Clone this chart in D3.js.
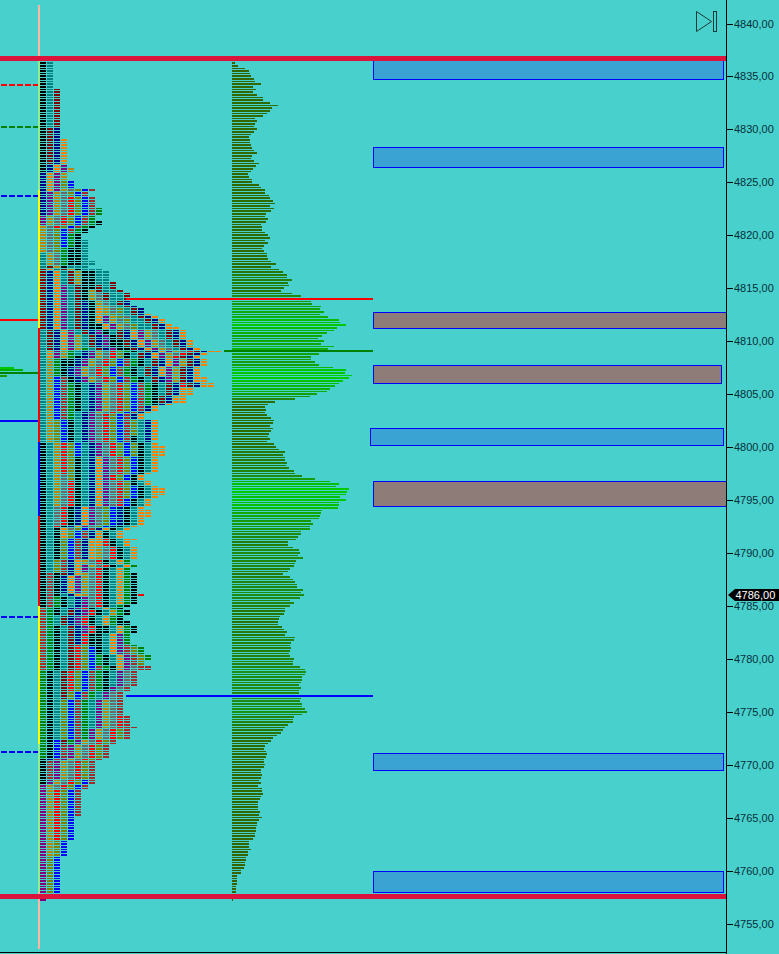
<!DOCTYPE html>
<html><head><meta charset="utf-8">
<style>html,body{margin:0;padding:0;background:#48d1cc;overflow:hidden}svg{display:block}</style>
<script src="https://cdnjs.cloudflare.com/ajax/libs/d3/7.8.5/d3.min.js"></script>
</head><body><svg id="c" width="779" height="954"></svg>
<script>
// ---------- data ----------
const topRowPrice = 4836.5, tickSize = 0.25;
const volumes = [1,3,6,13,17,18,19,22,23,29,21,24,21,25,31,31,38,46,40,38,35,31,23,25,23,22,25,22,19,17,18,18,19,20,22,25,20,19,22,27,24,21,19,16,17,20,
20,27,29,33,33,37,38,41,43,38,42,39,34,33,36,34,29,30,30,33,36,38,33,36,32,30,32,35,35,36,39,44,39,47,51,55,55,60,56,57,52,49,60,
69,75,79,80,89,88,92,88,96,107,108,114,105,102,95,90,86,92,89,102,96,100,87,79,79,83,87,101,114,113,120,117,111,107,103,98,95,85,78,63,43,36,33,34,33,35,39,
42,41,38,41,39,37,36,38,35,42,44,47,53,51,53,53,55,54,57,62,63,70,83,98,107,104,117,115,114,108,114,107,107,106,90,89,88,87,79,81,78,78,69,69,66,64,56,56,61,67,68,66,71,
64,63,62,58,56,51,58,61,63,65,65,71,69,72,68,58,62,58,53,53,52,48,47,46,46,50,52,55,53,63,62,59,58,59,58,57,58,62,61,61,68,73,74,73,70,70,69,67,69,67,67,68,
69,68,70,70,73,75,70,
62,61,61,56,53,51,49,45,41,39,36,33,32,34,35,34,32,32,33,32,29,29,30,29,27,29,26,30,30,31,29,28,26,26,26,26,28,27,30,27,25,25,24,24,23,23,21,17,17,17,19,
16,16,14,14,13,13,12,9,9,5,5,5,5,4,4,4,4,2,1];

// TPO letters by period colour; each band is [first row, periods in the row]
const periodColors = {k:"#000000",t:"#008080",d:"#800000",n:"#000080",o:"#ff8000",p:"#800080",g:"#b8860b",y:"#696969",r:"#ff0000",l:"#808000",b:"#0000ff",w:"#a52a2a",e:"#008000"};
const tpoBands = [[0,"k"],[1,"kt"],[11,"ktd"],[26,"kdn"],[30,"kdno"],[40,"knop"],[41,"knopg"],[43,"nopg"],[46,"noplb"],[49,"nopgylbw"],[50,"npgylbw"],[52,"npgyrlbw"],[56,"npgyrlbwe"],[59,"pgyrlbwe"],[61,"pgyrlbwek"],[63,"gyrlbwek"],[64,"gylbwek"],[66,"gylbek"],[68,"gylbekt"],[71,"gylekkt"],[73,"tgyekkt"],[76,"tgyekktt"],[78,"tdgkttt"],[79,"dotdgkttt"],[80,"dnotdgkktt"],[84,"dnotdgkkttd"],[85,"dnoptdkkdtd"],[87,"dnoptdkgdttd"],[88,"dnoptdkgydttd"],[91,"dnoptdnkgytdn"],[93,"dnoptdnkogytdn"],[94,"dnoptdnkogyltdn"],[96,"dnoptdnkoglytdno"],[97,"dnoptdnkopglytdno"],[98,"dnoptdnkopgylttdno"],[100,"dnoptdnkkopgylttdno"],[101,"dnoptdnkkopgylttdnoo"],[102,"tdnoptdnpktdnopgytdno"],[104,"tdnopgtdnpkdnopgytdno"],[106,"tdnopgtdnpkkdnopgytdno"],[109,"tdnopgetdnpkkdnopgytdno"],[110,"topgetnpgyrlektdnopgyrdno" + "o"],[111,"topgetnpgyrlktdnopgyrdno"],[112,"topgeknpgyrlktdnopgrdno"],[113,"tgekknpgyrlbwektdnopgdno"],[116,"tgeknpgyrlbwektdnopgdno"],[120,"tgbwknpgyrlbwektdnpgdnoo"],[122,"tgbwektnpgyrlbwektdnrdnoo"],[124,"tgbwektnpgyrlbwektdnoo"],[127,"tgbwektnpgyrlbwekdnoo"],[130,"tgbwektnpgyrlbwekno"],[131,"tgbwektnpgyrlbwno"],[133,"tgbwetnpgyrlbwno"],[134,"tgbwetnpyrlbwno"],[136,"tglbktnpyrlbwltno"],[142,"tglbktnpyrlbwktno"],[144,"tglbktnpyrlbwktn"],[145,"ktgrlbtnpyrlblkto"],[146,"ktgrlbtnpyrlblktoo"],[150,"ktgrlktnopyrlbkto"],[156,"ktgrlktnopyrlbko"],[157,"ktgylktnoprlbko"],[159,"ktgyrktnopyrlkto"],[161,"ktgyrktnopyrlbkto"],[162,"ktgyrktnopyrlbktoo"],[165,"ktgyrktnopyrlbkto"],[166,"ktgyrktnopyrbkto"],[169,"ktyrknopylbnkto"],[170,"ktyrknopylbnktoo"],[173,"ktyrknopylbnkto"],[176,"ktrknopylbnkto"],[177,"ktkoylbwnokto"],[178,"ktkolbwnokto"],[181,"ktklbwnoorktoo"],[182,"ktklbwnoorkto"],[184,"ktklbwnogyrkto"],[189,"ktlwnogyrktoe"],[191,"ktlwnopgyrktoe"],[192,"ktlwnopyrktoe"],[194,"kwkdnogyrktoek"],[195,"kwknopgyrktoek"],[202,"kwktnogyrktoekr"],[203,"kwektnpyrktoek"],[206,"kwektnpyrktek"],[207,"wektnprktoek"],[208,"wektdnprktgek"],[210,"wetdnprktoek"],[212,"wetdnprktoekk"],[214,"wektdnprkktoek"],[217,"wektdnrkktope"],[221,"wektdrlkktopwe"],[222,"wektdrlbktopwle"],[225,"wektdrlbektopwle"],[227,"wektdrlbektopwl"],[229,"wektdrlbwekopyww"],[231,"ektdrlbwektpyw"],[237,"ektdrlbwekpyw"],[239,"ektdlbwetpyw"],[242,"ektlbwetpgyw"],[248,"ektlbwetpgyrw"],[252,"ektlbwetpgyrww"],[253,"ektlbwepgyrlw"],[257,"ekbdepgyrlw"],[259,"ekbwpgyrlw"],[264,"knwpgyrlw"],[265,"kwpgyrlw"],[272,"kpgyrlbw"],[274,"pgyrlbw"],[276,"pgrlbw"],[286,"pgrlb"],[295,"pglb"],[301,"plb"],[315,"p"]];

const axisTicks = d3.range(4755, 4841, 5);
const sessionPrices = [4836.75, 4757.66];
const lastPrice = 4786;
const lastPriceLabel = "4786,00";

// Strip beside the profile: [high, low, colour]
const stripHigh = [4841.7, 4836.5, 4824.28, 4811.25, 4800.5, 4793.5, 4785, 4772, 4758];
const stripLow  = [4836.5, 4824.28, 4811.25, 4800.5, 4793.5, 4785, 4772, 4758, 4752.6];
const stripFill = ["#ffb8a0","#90ee90","#ffff00","#ff0000","#0000ff","#ff0000","#ffff00","#90ee90","#ffb8a0"];

const levelPrice = [4814.03, 4809.03, 4776.54];
const levelFill  = ["#ff0000","#008000","#0000ff"];
const levelStart = [126, 224, 126];
const prevPrice = [4812.0, 4802.46];
const prevFill  = ["#ff0000","#0000ff"];
const dashPrice = [4834.22, 4830.23, 4823.74, 4783.96];
const dashFill  = ["#ff0000","#008000","#0000ff","#0000ff"];
const shortDashPrice = [4771.2];

const prevVolPrice = [4807.5, 4807.25, 4807.0, 4806.75];
const prevVolValue = [14, 23, 38, 7];
const prevVolFill  = ["#00c800","#00b000","#008000","#1a9a00"];

const zoneHigh = [4836.65,4828.34,4812.76,4807.75,4801.8,4796.8,4771.1,4760];
const zoneLow  = [4834.76,4826.45,4811.25,4806.05,4800.2,4794.44,4769.5,4758];
const zoneLeft = [373,373,373,373,370,373,373,373];
const zoneRight= [723,723,726,721,723,726,723,723];
const zoneKind = ["s","s","r","r","s","r","s","s"];

// ---------- scales ----------
const W = 779, H = 954, axisX = 726.5;
const y = d3.scaleLinear().domain([4840, 4755]).range([23.5, 923.7]);
const volX = d3.scaleLinear().domain([0, 120]).range([0, 120]);
const volColor = d3.scaleLinear().domain([0, 40, 70, 120]).range(["#3a6000","#2e6b00","#1f8a10","#00d000"]);
const zoneFill = d3.scaleOrdinal().domain(["s","r"]).range(["#3ba3d4","#8e7c78"]);

const svg = d3.select("#c").attr("shape-rendering","crispEdges");
svg.append("rect").attr("width",W).attr("height",H).attr("fill","#48d1cc");

const rowPrice = r => topRowPrice - tickSize * r;
const rowTop = r => Math.floor(y(rowPrice(r)) - 0.5);
const rowH = r => Math.max(1, rowTop(r + 1) - rowTop(r) - 1);
const rowIdx = d3.range(volumes.length);

// strip
svg.append("g").selectAll("rect").data(stripFill).join("rect")
  .attr("x",38).attr("width",2)
  .attr("y",(d,i)=>Math.round(y(stripHigh[i])))
  .attr("height",(d,i)=>Math.round(y(stripLow[i]))-Math.round(y(stripHigh[i])))
  .attr("fill",d=>d);

// TPO cells
const bandStart = tpoBands.map(b=>b[0]);
const cells = [];
rowIdx.forEach(r=>{
  const b = tpoBands[d3.bisectRight(bandStart,r)-1];
  b[1].split("").forEach((ch,c)=>cells.push({r,c,ch}));
});
const tpoX = d3.scaleLinear().domain([0,1]).range([40,47]);
svg.append("g").selectAll("rect").data(cells).join("rect")
  .attr("x",d=>tpoX(d.c)).attr("width",6)
  .attr("y",d=>rowTop(d.r)).attr("height",d=>rowH(d.r))
  .attr("fill",d=>periodColors[d.ch]);

// volume profile
svg.append("g").attr("transform","translate(232,0)").selectAll("rect").data(rowIdx).join("rect")
  .attr("x",0).attr("width",r=>volX(volumes[r]))
  .attr("y",r=>rowTop(r)).attr("height",r=>rowH(r))
  .attr("fill",r=>volColor(volumes[r]));

// previous-profile stub
svg.append("g").selectAll("rect").data(prevVolPrice).join("rect")
  .attr("x",0).attr("width",(d,i)=>prevVolValue[i])
  .attr("y",d=>Math.round(y(d))-1).attr("height",2)
  .attr("fill",(d,i)=>prevVolFill[i]);

// zones
svg.append("g").selectAll("rect").data(zoneHigh).join("rect")
  .attr("x",(d,i)=>zoneLeft[i]+.5).attr("width",(d,i)=>zoneRight[i]-zoneLeft[i])
  .attr("y",d=>Math.round(y(d))+.5).attr("height",(d,i)=>Math.round(y(zoneLow[i]))-Math.round(y(d)))
  .attr("fill",(d,i)=>zoneFill(zoneKind[i])).attr("stroke","#0000ff").attr("stroke-width",1);

// levels
svg.append("g").selectAll("rect").data(levelPrice).join("rect")
  .attr("x",(d,i)=>levelStart[i]).attr("width",(d,i)=>373-levelStart[i])
  .attr("y",d=>Math.round(y(d))-1).attr("height",2)
  .attr("fill",(d,i)=>levelFill[i]);
svg.append("g").selectAll("rect").data(prevPrice).join("rect")
  .attr("x",0).attr("width",38)
  .attr("y",d=>Math.round(y(d))-1).attr("height",2)
  .attr("fill",(d,i)=>prevFill[i]);
svg.append("g").selectAll("line").data(dashPrice).join("line")
  .attr("x1",1).attr("x2",38).attr("y1",d=>Math.round(y(d))).attr("y2",d=>Math.round(y(d)))
  .attr("stroke",(d,i)=>dashFill[i]).attr("stroke-width",2).attr("stroke-dasharray","6 2");
svg.append("g").selectAll("line").data(shortDashPrice).join("line")
  .attr("x1",1).attr("x2",38).attr("y1",d=>Math.round(y(d))).attr("y2",d=>Math.round(y(d)))
  .attr("stroke","#0000ff").attr("stroke-width",2).attr("stroke-dasharray","6 2");

// session bounds
svg.append("g").selectAll("rect").data(sessionPrices).join("rect")
  .attr("x",0).attr("width",727)
  .attr("y",d=>Math.round(y(d))-2.5+.5).attr("height",5)
  .attr("fill","#dc143c");

// axis
const axis = d3.axisRight(y).tickValues(axisTicks).tickSize(6).tickPadding(1.5)
  .tickFormat(d=>d3.format(".2f")(d).replace(".",","));
const ax = svg.append("g").attr("transform",`translate(${axisX},0)`).call(axis);
ax.select(".domain").remove();
ax.selectAll("text").attr("font-family","'Liberation Sans',Arial,sans-serif").attr("font-size",11).attr("fill","#0a2f3a");
ax.selectAll("line").attr("stroke","#000");
svg.append("rect").attr("x",726).attr("y",0).attr("width",1).attr("height",H).attr("fill","#000");
svg.append("rect").attr("x",0).attr("y",952).attr("width",727).attr("height",1).attr("fill","#000");

// last price tag
const tagY = Math.round(y(lastPrice)) - 6;
svg.append("path").attr("shape-rendering","auto")
  .attr("d",`M728,${tagY+6}L735,${tagY}H779V${tagY+12}H735Z`).attr("fill","#000");
svg.append("text").attr("x",735.5).attr("y",tagY+10).text(lastPriceLabel)
  .attr("font-family","'Liberation Sans',Arial,sans-serif").attr("font-size",11).attr("fill","#fff");

// jump-to-end icon
svg.append("path").attr("shape-rendering","auto")
  .attr("d","M696.5,11.5L696.5,31.5L711.5,21.5Z").attr("fill","none").attr("stroke","#1a3a3a");
svg.append("rect").attr("x",713.5).attr("y",11.5).attr("width",3).attr("height",20)
  .attr("fill","none").attr("stroke","#1a3a3a");
</script></body></html>
